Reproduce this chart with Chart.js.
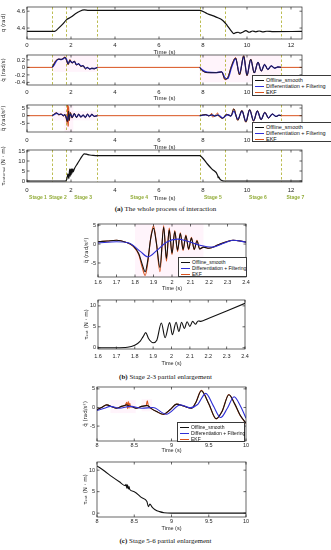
<!DOCTYPE html>
<html>
<head>
<meta charset="utf-8">
<script src="https://cdn.jsdelivr.net/npm/chart.js@4.4.1/dist/chart.umd.min.js"></script>
<style>
  body { margin: 0; background: #fff; }
  #page { position: relative; width: 331px; height: 550px; overflow: hidden; font-family: "Liberation Sans", Arial, sans-serif; }
  #page canvas { position: absolute; }
  .lg { position: absolute; z-index: 2; background: #fff; border: 0.7px solid #3a3a3a; color: #111; white-space: nowrap; box-sizing: border-box; padding: 0.6px 0 0 2px; }
  .lg i { display: inline-block; width: 9px; border-top: 1.2px solid; vertical-align: middle; margin-right: 2px; }
  .cap { position: absolute; left: 0; width: 331px; text-align: center; font-family: "Liberation Serif", "DejaVu Serif", serif; font-size: 7px; color: #111; }
</style>
</head>
<body>
<div id="page">
  <div class="cap" style="top:204.5px"><b>(a)</b> The whole process of interaction</div>
  <div class="cap" style="top:372.5px"><b>(b)</b> Stage 2-3 partial enlargement</div>
  <div class="cap" style="top:536.5px"><b>(c)</b> Stage 5-6 partial enlargement</div>
</div>
<script>
// --- series / stages ---
const seriesNames = ['Offline_smooth', 'Differentiation + Filtering', 'EKF'];
const stageBounds = [1.15, 1.75, 3.2, 7.85, 9.0, 11.55];
const stageNames = ['Stage 1', 'Stage 2', 'Stage 3', 'Stage 4', 'Stage 5', 'Stage 6', 'Stage 7'];
const stageLabelX = [0.5, 1.4, 2.55, 5.1, 8.45, 10.5, 12.2];

// --- tick labels ---
const xTicksWhole = [0, 2, 4, 6, 8, 10, 12];
const xTicksB = [1.6, 1.7, 1.8, 1.9, 2.0, 2.1, 2.2, 2.3, 2.4];
const xTicksC = [8, 8.5, 9, 9.5, 10];

// (a) q
const qT = [0, 1.25, 1.4, 1.6, 1.8, 2.0, 2.2, 2.4, 2.6, 2.8, 7.85, 8.2, 8.6, 8.9, 9.1, 9.3, 9.4, 9.5, 9.6, 9.7, 9.8, 9.95, 10.1, 10.25, 10.4, 10.55, 10.7, 10.9, 11.2, 12.5];
const qV = [4.36, 4.36, 4.39, 4.44, 4.50, 4.53, 4.57, 4.60, 4.615, 4.61, 4.61, 4.57, 4.53, 4.49, 4.43, 4.36, 4.335, 4.345, 4.35, 4.34, 4.35, 4.37, 4.35, 4.365, 4.355, 4.365, 4.355, 4.362, 4.358, 4.36];

// (a) q dot
const dqT = [0, 1.15, 1.25, 1.35, 1.45, 1.55, 1.65, 1.73, 1.8, 1.87, 1.95, 2.05, 2.15, 2.25, 2.35, 2.45, 2.55, 2.65, 2.75, 2.85, 2.95, 3.05, 3.2, 5.5, 7.85, 7.95, 8.2, 8.6, 8.85, 9.0, 9.12, 9.3, 9.48, 9.66, 9.85, 10.0, 10.17, 10.33, 10.5, 10.65, 10.8, 10.95, 11.1, 11.26, 11.4, 11.55, 12.5];
const dqOff = [null, 0, 0.12, 0.2, 0.22, 0.21, 0.24, 0.27, 0.18, 0.08, 0.2, 0.11, 0.17, 0.06, 0.1, 0.02, 0.05, -0.04, 0.0, -0.05, -0.02, -0.04, 0, null, 0, -0.08, -0.14, -0.14, -0.12, -0.32, -0.28, 0.05, 0.25, -0.2, 0.31, -0.22, 0.22, -0.15, 0.14, -0.1, 0.08, -0.06, 0.04, -0.02, 0.01, 0, null];
const dqDif = [null, 0, 0.08, 0.18, 0.22, 0.21, 0.23, 0.26, 0.21, 0.1, 0.17, 0.13, 0.15, 0.08, 0.09, 0.04, 0.04, -0.02, -0.01, -0.04, -0.03, -0.03, 0, null, 0, -0.06, -0.13, -0.14, -0.12, -0.28, -0.3, 0.0, 0.23, -0.16, 0.28, -0.2, 0.2, -0.14, 0.13, -0.09, 0.07, -0.05, 0.04, -0.02, 0.01, 0, null];
const dqEkf = [0, 0, 0.13, 0.2, 0.22, 0.21, 0.25, 0.28, 0.17, 0.07, 0.21, 0.11, 0.17, 0.06, 0.1, 0.02, 0.05, -0.04, 0.0, -0.05, -0.02, -0.04, 0, 0, 0, -0.08, -0.14, -0.14, -0.12, -0.33, -0.28, 0.05, 0.26, -0.2, 0.31, -0.22, 0.22, -0.15, 0.14, -0.1, 0.08, -0.06, 0.04, -0.02, 0.01, 0, 0];

// (a) q double dot
const ddqT = [0, 1.15, 1.25, 1.35, 1.45, 1.55, 1.65, 1.72, 1.78, 1.83, 1.85, 1.87, 1.89, 1.92, 1.97, 2.05, 2.15, 2.25, 2.35, 2.45, 2.55, 2.65, 2.75, 2.85, 2.95, 3.05, 3.2, 5.5, 7.85, 8.0, 8.13, 8.26, 8.4, 8.42, 8.53, 8.67, 8.69, 8.8, 8.89, 9.07, 9.16, 9.27, 9.4, 9.58, 9.77, 9.95, 10.12, 10.3, 10.47, 10.64, 10.81, 10.98, 11.15, 11.32, 11.45, 11.55, 12.5];
const ddqOff = [null, 0, 1.2, 1.8, 0.5, 1.2, -0.3, 0.8, -1.5, -4.0, -3, 0, 3, -3, 2, -1.5, 1.5, -1.2, 1.0, -1.0, 0.5, -1.2, 1.0, -0.8, 1.0, -0.5, 0, null, 0, 0.5, 0.7, -0.2, 0.7, 0.5, -0.3, 0.5, 0.4, -1.1, -1.8, 0.9, 0.3, -0.2, 4.5, -3.0, 3.4, -4.2, 4.0, -3.5, 3.2, -2.6, 2.2, -1.6, 1.1, -0.6, 0.3, 0, null];
const ddqDif = [null, 0, 0.8, 1.6, 0.9, 0.9, 0.2, 0.5, -0.8, -2.5, -3.2, -2.0, 0.5, -0.5, 1.0, -1.0, 1.2, -1.0, 0.8, -0.8, 0.4, -1.0, 0.8, -0.6, 0.8, -0.4, 0, null, 0, 0.3, 0.5, 0.1, 0.4, 0.4, -0.1, 0.3, 0.3, -0.6, -1.5, 0.4, 0.6, -0.3, 3.0, -2.2, 2.9, -3.6, 3.6, -3.2, 2.9, -2.4, 2.0, -1.4, 1.0, -0.5, 0.3, 0, null];
const ddqEkf = [0, 0, 1.3, 1.9, 0.4, 1.3, -0.4, 0.9, -1.8, -5.0, 7.5, -7, 6, -3.5, 2.2, -1.6, 1.6, -1.3, 1.1, -1.1, 0.6, -1.3, 1.1, -0.9, 1.1, -0.5, 0, 0, 0, 0.5, 0.7, -0.2, 1.5, -0.8, -0.3, 1.8, 0.4, -1.2, -1.9, 0.9, 0.3, -0.2, 4.6, -3.1, 3.5, -4.3, 4.1, -3.6, 3.3, -2.7, 2.3, -1.7, 1.2, -0.6, 0.3, 0, 0];

// (a) external torque
const tauT = [0, 1.75, 1.8, 1.84, 1.86, 1.9, 1.94, 1.96, 1.99, 2.005, 2.03, 2.05, 2.08, 2.1, 2.16, 2.3, 2.4, 2.5, 2.6, 2.7, 2.85, 3.0, 3.3, 7.85, 7.95, 8.2, 8.42, 8.67, 8.69, 8.71, 8.78, 8.9, 9.0, 12.5];
const tauV = [0, 0, 0.6, 2.6, 3.6, 1.2, 5.9, 2.4, 6.0, 3.1, 6.1, 3.9, 6.1, 4.6, 6.3, 8.8, 10.6, 12.3, 13.6, 13.4, 13.0, 12.8, 12.7, 12.7, 11.9, 8.5, 5.8, 2.7, 1.5, 2.1, 0.8, 0.1, 0, 0];

// (b) q double dot, 1.6 - 2.4 s
const bT = [1.6, 1.65, 1.7, 1.75, 1.79, 1.82, 1.84, 1.855, 1.87, 1.885, 1.9, 1.915, 1.935, 1.955, 1.97, 1.985, 2.0, 2.015, 2.03, 2.045, 2.06, 2.075, 2.09, 2.105, 2.12, 2.135, 2.15, 2.17, 2.2, 2.25, 2.3, 2.33, 2.37, 2.4];
const bOff = [0.6, 0.8, 1.0, 0.5, -0.5, -2.5, -5.5, -7.3, -4.0, 1.5, 4.2, 0.5, -6.2, 4.4, -3.8, 3.8, -2.4, 3.3, -1.6, 2.8, -1.4, 2.2, -1.3, 1.6, -1.4, 0.8, -1.3, -0.8, -1.1, -0.2, 0.7, 1.0, 0.8, 0.5];
const bEkf = [0.6, 0.8, 1.0, 0.5, -0.6, -2.8, -6.3, -8.3, -4.6, 1.6, 4.8, 0.6, -7.3, 4.8, -4.5, 4.2, -2.8, 3.6, -2.0, 3.0, -1.7, 2.4, -1.5, 1.8, -1.5, 1.0, -1.3, -0.8, -1.1, -0.2, 0.7, 1.0, 0.8, 0.5];
const bDifT = [1.6, 1.7, 1.77, 1.83, 1.87, 1.92, 1.97, 2.03, 2.08, 2.15, 2.22, 2.28, 2.33, 2.4];
const bDif = [0.3, 0.6, 0.2, -2.0, -3.4, -1.6, 0.5, 1.3, 0.8, -0.3, -0.8, 0.2, 1.0, 0.5];

// (b) torque
const bTauT = [1.6, 1.7, 1.76, 1.8, 1.83, 1.845, 1.86, 1.875, 1.9, 1.92, 1.945, 1.965, 1.99, 2.005, 2.025, 2.04, 2.055, 2.07, 2.085, 2.1, 2.115, 2.13, 2.145, 2.16, 2.2, 2.3, 2.4];
const bTauV = [0, 0, 0.1, 0.6, 1.6, 2.6, 3.6, 2.2, 1.2, 1.8, 5.9, 2.4, 6.0, 3.1, 6.1, 3.9, 6.1, 4.6, 6.2, 5.1, 6.3, 5.6, 6.4, 6.3, 7.0, 8.8, 10.6];

// (c) q double dot, 8 - 10 s
const cT = [8.0, 8.06, 8.13, 8.2, 8.26, 8.33, 8.38, 8.4, 8.41, 8.42, 8.43, 8.44, 8.45, 8.47, 8.53, 8.6, 8.66, 8.675, 8.69, 8.73, 8.8, 8.89, 8.98, 9.07, 9.16, 9.27, 9.33, 9.4, 9.5, 9.6, 9.68, 9.77, 9.85, 9.92, 10.0];
const cOff = [-0.6, 0.0, 0.7, 0.2, -0.2, 0.3, 0.6, 0.7, 0.6, 0.5, 0.4, 0.3, 0.3, 0.2, -0.2, 0.3, 0.5, 0.5, 0.4, -0.3, -1.1, -1.8, -0.6, 0.9, 0.4, -0.2, 1.5, 4.5, 1.0, -3.0, -1.0, 3.4, 0.9, -2.0, -4.2];
const cEkf = [-0.6, 0.0, 0.7, 0.2, -0.2, 0.3, 0.6, 1.4, -0.3, 1.6, -0.2, 1.2, 0.1, 0.3, -0.2, 0.3, 0.5, 1.8, 0.4, -0.3, -1.1, -1.9, -0.6, 0.9, 0.4, -0.2, 1.5, 4.6, 1.0, -3.1, -1.0, 3.5, 0.9, -2.1, -4.3];
const cDifT = [8.0, 8.1, 8.18, 8.3, 8.45, 8.6, 8.75, 8.93, 9.12, 9.25, 9.35, 9.46, 9.56, 9.66, 9.75, 9.84, 9.93, 10.0];
const cDif = [-0.8, -0.2, 0.3, -0.2, 0.3, -0.2, 0.0, -1.8, 0.7, -0.1, 0.8, 3.8, 0.5, -2.7, -0.2, 2.9, 0.2, -2.9];

// (c) torque
const cTauT = [8.0, 8.1, 8.2, 8.3, 8.38, 8.39, 8.4, 8.41, 8.42, 8.43, 8.44, 8.5, 8.6, 8.67, 8.69, 8.71, 8.74, 8.78, 8.84, 8.9, 9.0, 10.0];
const cTauV = [11.0, 9.8, 8.5, 7.3, 6.4, 6.7, 5.8, 6.6, 5.6, 6.2, 5.5, 5.0, 3.6, 2.7, 1.5, 2.1, 1.4, 0.8, 0.35, 0.1, 0.0, 0.0];

const BLACK = '#111111', BLUE = '#2f2fd6', RED = '#d9531e';
const seriesColors = [BLACK, BLUE, RED];
const page = document.getElementById('page');
const pts = (t, v) => t.map((x, i) => ({ x, y: v[i] }));
const fmt = v => String(+Number(v).toFixed(2));

function deco(cfg) {
  return {
    id: 'deco',
    beforeDatasetsDraw(chart) {
      const { ctx, chartArea: a, scales: { x, y } } = chart;
      ctx.save();
      (cfg.bands || []).forEach(b => {
        const x0 = Math.max(x.getPixelForValue(b[0]), a.left), x1 = Math.min(x.getPixelForValue(b[1]), a.right);
        const y0 = Math.min(y.getPixelForValue(b[2]), a.bottom), y1 = Math.max(y.getPixelForValue(b[3]), a.top);
        ctx.fillStyle = 'rgba(255, 120, 200, 0.08)';
        ctx.fillRect(x0, y1, x1 - x0, y0 - y1);
      });
      if (cfg.stages) {
        ctx.strokeStyle = '#b4b63e';
        ctx.lineWidth = 0.9;
        ctx.setLineDash([2.5, 2]);
        stageBounds.forEach(s => {
          const px = Math.round(x.getPixelForValue(s)) + 0.5;
          ctx.beginPath(); ctx.moveTo(px, a.top); ctx.lineTo(px, a.bottom); ctx.stroke();
        });
      }
      ctx.restore();
    },
    afterDatasetsDraw(chart) {
      const { ctx, chartArea: a, scales: { x, y } } = chart;
      ctx.save();
      ctx.strokeStyle = '#262626';
      ctx.lineWidth = 0.7;
      ctx.strokeRect(a.left, a.top, a.right - a.left, a.bottom - a.top);
      ctx.beginPath();
      x.ticks.forEach(t => {
        const px = x.getPixelForValue(t.value);
        ctx.moveTo(px, a.bottom); ctx.lineTo(px, a.bottom - 2.5);
        ctx.moveTo(px, a.top); ctx.lineTo(px, a.top + 2.5);
      });
      y.ticks.forEach(t => {
        const py = y.getPixelForValue(t.value);
        ctx.moveTo(a.left, py); ctx.lineTo(a.left + 2.5, py);
        ctx.moveTo(a.right, py); ctx.lineTo(a.right - 2.5, py);
      });
      ctx.stroke();
      if (cfg.names) {
        ctx.fillStyle = '#93ad3b';
        ctx.font = 'bold 5px "Liberation Sans", Arial';
        ctx.textAlign = 'center';
        ctx.textBaseline = 'middle';
        stageNames.forEach((n, i) => ctx.fillText(n, x.getPixelForValue(stageLabelX[i]), a.bottom + 16));
      }
      ctx.restore();
    }
  };
}

function panel(cfg) {
  const AX = cfg.ax, PT = 6, PR = 10;
  const w = Math.ceil(cfg.r - cfg.l + AX + PR);
  const hRaw = cfg.b - cfg.t + PT + cfg.xh;
  const h = Math.ceil(hRaw);
  const c = document.createElement('canvas');
  c.width = w; c.height = h;
  c.style.left = (cfg.l - AX) + 'px';
  c.style.top = (cfg.t - PT) + 'px';
  c.style.width = w + 'px';
  c.style.height = h + 'px';
  page.appendChild(c);
  const fs = cfg.fs || 6;
  new Chart(c, {
    type: 'line',
    data: {
      datasets: cfg.series.map(s => ({
        data: pts(s.t, s.v),
        borderColor: s.color,
        borderWidth: s.w || 1,
        pointRadius: 0,
        fill: false,
        spanGaps: false,
        cubicInterpolationMode: 'monotone',
        order: s.order || 0
      }))
    },
    options: {
      responsive: false,
      animation: false,
      devicePixelRatio: 1,
      layout: { padding: { top: PT, right: w - (cfg.r - cfg.l + AX), left: 0, bottom: h - hRaw } },
      plugins: { legend: { display: false }, tooltip: { enabled: false } },
      scales: {
        x: {
          type: 'linear', min: cfg.xmin, max: cfg.xmax,
          afterBuildTicks: s => { s.ticks = cfg.xt.map(v => ({ value: v })); },
          afterFit: s => { s.height = cfg.xh; },
          grid: { display: false, drawTicks: false },
          border: { display: false },
          ticks: { font: { size: fs }, color: '#262626', padding: cfg.xpad, maxRotation: 0, autoSkip: false, callback: fmt },
          title: { display: true, text: 'Time (s)', color: '#262626', font: { size: fs }, padding: { top: 0, bottom: 0 } }
        },
        y: {
          min: cfg.ymin, max: cfg.ymax,
          afterBuildTicks: s => { s.ticks = cfg.yt.map(v => ({ value: v })); },
          afterFit: s => { s.width = AX; },
          grid: { display: false, drawTicks: false },
          border: { display: false },
          ticks: { font: { size: fs }, color: '#262626', padding: 2, autoSkip: false, callback: fmt },
          title: { display: true, text: cfg.ytitle, color: '#262626', font: { size: 5.5, family: '"DejaVu Sans", sans-serif' }, padding: { top: 0, bottom: 0 } }
        }
      }
    },
    plugins: [deco(cfg)]
  });
}

function legend(left, top, width, height, size) {
  const d = document.createElement('div');
  d.className = 'lg';
  Object.assign(d.style, { left: left + 'px', top: top + 'px', width: width + 'px', height: height + 'px', fontSize: size + 'px' });
  seriesNames.forEach((n, i) => {
    const r = document.createElement('div');
    r.style.height = r.style.lineHeight = ((height - 1.6) / 3) + 'px';
    r.innerHTML = '<i style="border-color:' + seriesColors[i] + '"></i>' + n;
    d.appendChild(r);
  });
  page.appendChild(d);
}

const whole = { l: 27, r: 302, ax: 27, xmin: 0, xmax: 12.5, xt: xTicksWhole, stages: true };

panel(Object.assign({}, whole, {
  t: 7, b: 39, xh: 16.6, xpad: 2.4, ymin: 4.27, ymax: 4.65, yt: [4.4, 4.6], ytitle: 'q (rad)',
  series: [{ t: qT, v: qV, color: BLACK, w: 1.2 }]
}));

// in the whole-process panels the black trace sits over a wider blue one
panel(Object.assign({}, whole, {
  t: 55, b: 85, xh: 16.9, xpad: 4.1, ymin: -0.47, ymax: 0.33, yt: [-0.4, -0.2, 0, 0.2], ytitle: 'q\u0307 (rad/s)',
  bands: [[1.15, 3.2, -0.12, 0.33], [7.85, 11.55, -0.4, 0.33]],
  series: [
    { t: dqT, v: dqOff, color: BLACK, w: 0.8, order: 1 },
    { t: dqT, v: dqDif, color: BLUE, w: 1.3, order: 2 },
    { t: dqT, v: dqEkf, color: RED, order: 3 }
  ]
}));

panel(Object.assign({}, whole, {
  t: 105, b: 132, xh: 19.1, xpad: 4.4, ymin: -10.7, ymax: 7, yt: [-5, 0, 5], ytitle: 'q\u0308 (rad/s\u00b2)',
  bands: [[1.15, 3.2, -3, 3], [1.7, 2.1, -10.7, 7]],
  series: [
    { t: ddqT, v: ddqOff, color: BLACK, w: 0.8, order: 1 },
    { t: ddqT, v: ddqDif, color: BLUE, w: 1.3, order: 2 },
    { t: ddqT, v: ddqEkf, color: RED, order: 3 }
  ]
}));

panel(Object.assign({}, whole, {
  t: 150, b: 182, xh: 19.6, xpad: 4.4, ymin: -0.5, ymax: 15.5, yt: [0, 5, 10, 15], ytitle: '\u03c4\u2091\u2093\u209c\u2091\u1d63\u2099\u2090\u2097 (N \u00b7 m)',
  names: true,
  series: [{ t: tauT, v: tauV, color: BLACK, w: 1.2 }]
}));

panel({
  l: 98, r: 246, t: 224, b: 277, ax: 15, fs: 5.5, xh: 14.9, xpad: 1.7,
  xmin: 1.6, xmax: 2.4, xt: xTicksB, ymin: -8.7, ymax: 5.3, yt: [-5, 0, 5], ytitle: 'q\u0308 (rad/s\u00b2)',
  bands: [[1.8, 2.17, -8.7, 5.3]],
  series: [
    { t: bDifT, v: bDif, color: BLUE, w: 1.1, order: 1 },
    { t: bT, v: bOff, color: BLACK, w: 1.1, order: 2 },
    { t: bT, v: bEkf, color: RED, w: 1.1, order: 3 }
  ]
});

panel({
  l: 98, r: 245, t: 300, b: 349, ax: 15, fs: 5.5, xh: 17.3, xpad: 4.1,
  xmin: 1.6, xmax: 2.4, xt: xTicksB, ymin: -0.3, ymax: 11.4, yt: [0, 5, 10], ytitle: '\u03c4\u2091\u2093\u209c (N \u00b7 m)',
  series: [{ t: bTauT, v: bTauV, color: BLACK, w: 1.1 }]
});

panel({
  l: 97, r: 246, t: 387, b: 441, ax: 15, fs: 5.5, xh: 12.8, xpad: 0.7,
  xmin: 8, xmax: 10, xt: xTicksC, ymin: -9, ymax: 5.5, yt: [-5, 0, 5], ytitle: 'q\u0308 (rad/s\u00b2)',
  bands: [[8.18, 8.52, -1.5, 2], [8.6, 8.74, -1, 2.2]],
  series: [
    { t: cDifT, v: cDif, color: BLUE, w: 1.1, order: 1 },
    { t: cT, v: cOff, color: BLACK, w: 1.1, order: 2 },
    { t: cT, v: cEkf, color: RED, w: 1.1, order: 3 }
  ]
});

panel({
  l: 97, r: 246, t: 462, b: 517, ax: 15, fs: 5.5, xh: 14.3, xpad: 1,
  xmin: 8, xmax: 10, xt: xTicksC, ymin: -0.9, ymax: 11.9, yt: [0, 5, 10], ytitle: '\u03c4\u2091\u2093\u209c (N \u00b7 m)',
  series: [{ t: cTauT, v: cTauV, color: BLACK, w: 1.1 }]
});

legend(252, 75, 82, 20.5, 5.5);
legend(252, 122, 82, 20, 5.5);
legend(178, 257, 69, 20, 5);
legend(177, 422, 68, 20, 5);
</script>
</body>
</html>
